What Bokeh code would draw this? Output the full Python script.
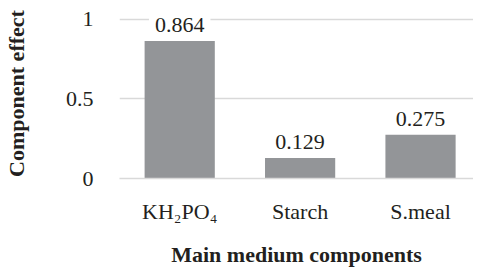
from bokeh.plotting import figure
from bokeh.models import Range1d, FixedTicker, ColumnDataSource
from bokeh.core.properties import value
from bokeh.embed import file_html
from bokeh.resources import INLINE

categories = ["KH₂PO₄", "Starch", "S.meal"]
effects = [0.864, 0.129, 0.275]
effect_labels = ["0.864", "0.129", "0.275"]
y_ticks = [0, 0.5, 1]
y_tick_labels = ["0", "0.5", "1"]
x_title = "Main medium components"
y_title = "Component effect"

FONT = "Liberation Serif"
TEXT = "#231f20"
BAR = "#939598"
GRID = "#d9d9d9"

xs = list(range(len(categories)))
src = ColumnDataSource(dict(x=xs, top=effects, label=effect_labels))

p = figure(width=473, height=269, output_backend="svg", toolbar_location=None,
           x_range=Range1d(-0.5, 2.44), y_range=Range1d(0, 1.069),
           min_border_left=110, min_border_right=0, min_border_top=8,
           min_border_bottom=91)
p.outline_line_color = None
p.background_fill_color = "white"
p.border_fill_color = "white"

p.vbar(x="x", top="top", width=0.583, bottom=0, source=src, color=BAR, line_color=None)

p.text(x="x", y="top", text="label", source=src, text_align="center",
       text_baseline="bottom", y_offset=-9, text_font=value(FONT),
       text_font_size="22px", text_color=TEXT,
       background_fill_color="white", padding=dict(left=6, right=6, top=0, bottom=0))

p.xgrid.grid_line_color = None
p.ygrid.grid_line_color = GRID
p.ygrid.grid_line_width = 1.5
p.ygrid.ticker = FixedTicker(ticks=y_ticks)

xa = p.xaxis[0]
xa.ticker = FixedTicker(ticks=xs)
xa.major_label_overrides = {i: c for i, c in zip(xs, categories)}
xa.axis_line_color = GRID
xa.axis_line_width = 1.5
xa.major_tick_line_color = None
xa.minor_tick_line_color = None
xa.major_label_standoff = 14
xa.major_label_text_font = FONT
xa.major_label_text_font_size = "22px"
xa.major_label_text_line_height = 1.0
xa.major_label_text_color = TEXT
xa.axis_label = x_title
xa.axis_label_text_font = FONT
xa.axis_label_text_font_size = "22px"
xa.axis_label_text_font_style = "bold"
xa.axis_label_text_line_height = 1.0
xa.axis_label_text_color = TEXT
xa.axis_label_standoff = 15

ya = p.yaxis[0]
ya.ticker = FixedTicker(ticks=y_ticks)
ya.major_label_overrides = {t: l for t, l in zip(y_ticks, y_tick_labels)}
ya.axis_line_color = None
ya.major_tick_line_color = None
ya.minor_tick_line_color = None
ya.major_label_standoff = 20
ya.major_label_text_font = FONT
ya.major_label_text_font_size = "22px"
ya.major_label_text_color = TEXT
ya.axis_label = y_title
ya.axis_label_text_font = FONT
ya.axis_label_text_font_size = "22px"
ya.axis_label_text_font_style = "bold"
ya.axis_label_text_color = TEXT
ya.axis_label_standoff = 34

open("out.html", "w").write(file_html(p, INLINE))
